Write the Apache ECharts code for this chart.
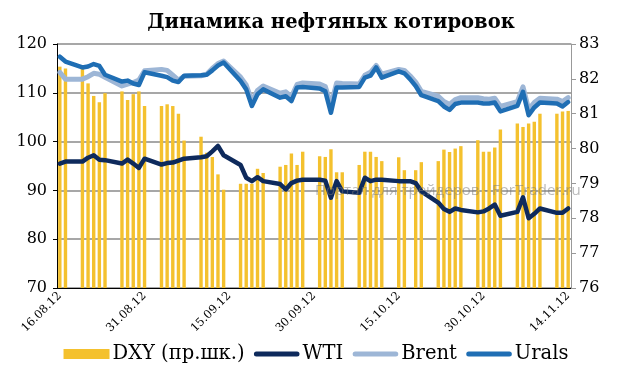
<!DOCTYPE html>
<html><head><meta charset="utf-8">
<script src="https://cdn.jsdelivr.net/npm/echarts@6/dist/echarts.min.js"></script>
<style>html,body{margin:0;padding:0;background:#fff}#c{width:632px;height:366px}</style>
</head><body><div id="c"></div>
<script>
var days = ["16.08.12","17.08.12","18.08.12","19.08.12","20.08.12","21.08.12","22.08.12","23.08.12","24.08.12","25.08.12",
"26.08.12","27.08.12","28.08.12","29.08.12","30.08.12","31.08.12","01.09.12","02.09.12","03.09.12","04.09.12",
"05.09.12","06.09.12","07.09.12","08.09.12","09.09.12","10.09.12","11.09.12","12.09.12","13.09.12","14.09.12",
"15.09.12","16.09.12","17.09.12","18.09.12","19.09.12","20.09.12","21.09.12","22.09.12","23.09.12","24.09.12",
"25.09.12","26.09.12","27.09.12","28.09.12","29.09.12","30.09.12","01.10.12","02.10.12","03.10.12","04.10.12",
"05.10.12","06.10.12","07.10.12","08.10.12","09.10.12","10.10.12","11.10.12","12.10.12","13.10.12","14.10.12",
"15.10.12","16.10.12","17.10.12","18.10.12","19.10.12","20.10.12","21.10.12","22.10.12","23.10.12","24.10.12",
"25.10.12","26.10.12","27.10.12","28.10.12","29.10.12","30.10.12","31.10.12","01.11.12","02.11.12","03.11.12",
"04.11.12","05.11.12","06.11.12","07.11.12","08.11.12","09.11.12","10.11.12","11.11.12","12.11.12","13.11.12",
"14.11.12"];
var _ = null;
var dxy = [82.35,82.3,_,_,82.3,81.87,81.51,81.33,81.59,_,
_,81.64,81.39,81.56,81.64,81.22,_,_,81.22,81.27,
81.22,81.0,80.23,_,_,80.34,79.88,79.76,79.26,78.82,
_,_,78.99,78.99,78.99,79.42,79.3,_,_,79.48,
79.53,79.86,79.53,79.91,_,_,79.78,79.76,79.98,79.32,
79.32,_,_,79.53,79.91,79.91,79.76,79.64,_,_,
79.75,79.38,_,79.38,79.61,_,_,79.64,79.97,79.9,
80.0,80.07,_,_,80.24,79.91,79.91,80.03,80.55,_,
_,80.72,80.62,80.72,80.77,81.0,_,_,81.0,81.06,
81.08];
var wti = [95.5,95.9,_,_,95.9,96.7,97.2,96.3,96.2,_,
_,95.5,96.3,95.5,94.6,96.5,_,_,95.3,95.6,
95.7,96.1,96.5,_,_,96.8,97.0,98.0,99.1,97.2,
_,_,95.2,92.6,91.9,92.7,91.9,_,_,91.3,
90.2,91.5,92.0,92.2,_,_,92.2,92.0,88.5,91.9,
89.8,_,_,89.5,92.6,91.9,92.2,92.2,_,_,
91.9,91.9,91.9,91.5,89.8,_,_,87.5,86.2,85.6,
86.3,86.0,_,_,85.5,85.7,86.3,87.1,84.8,_,
_,85.6,88.6,84.3,85.2,86.3,_,_,85.4,85.4,
86.3];
var brent = [114.2,112.8,_,_,112.8,113.3,114.0,113.8,113.2,_,
_,111.4,111.8,112.1,112.6,114.5,_,_,114.8,114.6,
113.6,112.6,113.4,_,_,113.5,113.8,115.0,116.0,116.5,
_,_,113.2,111.6,108.3,110.5,111.4,_,_,109.9,
110.2,109.2,111.7,112.0,_,_,111.8,111.3,107.5,112.0,
111.9,_,_,111.8,113.6,114.2,115.6,113.8,_,_,
114.8,114.6,113.5,112.2,110.3,_,_,109.3,108.2,107.6,
108.6,109.0,_,_,109.0,108.8,108.7,108.9,107.2,_,
_,108.2,111.2,106.6,108.0,108.9,_,_,108.7,108.2,
109.0];
var urals = [117.4,116.4,_,_,115.2,115.4,115.9,115.5,113.7,_,
_,112.3,112.5,111.9,111.6,114.2,_,_,113.5,113.2,
112.5,112.2,113.5,_,_,113.6,113.7,114.6,115.6,116.2,
_,_,112.4,110.7,107.3,109.7,110.7,_,_,109.0,
109.3,108.3,111.1,111.2,_,_,110.9,110.3,105.9,111.1,
111.1,_,_,111.2,113.1,113.5,115.2,113.1,_,_,
114.4,114.0,112.8,111.4,109.5,_,_,108.3,107.2,106.5,
107.7,108.0,_,_,108.0,107.8,107.8,108.0,106.2,_,
_,107.3,110.2,105.4,107.0,108.0,_,_,107.8,107.2,
108.1];
var leftTicks = {min:70, max:120, interval:10};
var rightTicks = {min:76, max:83, interval:1};

var serif = 'DejaVu Serif';
var lineIcon = 'path://M0,0L0.05,0L0.05,0.05ZM0,10L0.05,10L0.05,9.95ZM3,2.4L45,2.4A2.6,2.6 0 0 1 45,7.6L3,7.6A2.6,2.6 0 0 1 3,2.4Z';
var chart = echarts.init(document.getElementById('c'), null, {renderer:'canvas'});
chart.setOption({
  animation:false,
  backgroundColor:'#fff',
  title:{text:'Динамика нефтяных котировок', left:326, top:8, textAlign:'center',
    textStyle:{fontFamily:serif, fontWeight:'bold', fontSize:19.5, color:'#000'}},
  grid:{left:57, right:61, top:44, bottom:78},
  legend:{
    data:[{name:'DXY (пр.шк.)', icon:'rect'},{name:'WTI', icon:lineIcon},{name:'Brent', icon:lineIcon},{name:'Urals', icon:lineIcon}],
    left:'center', top:339, itemWidth:46, itemHeight:10, itemGap:9,
    textStyle:{fontFamily:serif, fontSize:19.5, color:'#000', padding:[0,0,0,-2]}
  },
  xAxis:{type:'category', data:days, boundaryGap:true,
    axisLine:{lineStyle:{color:'#000', width:1}},
    axisTick:{alignWithLabel:true, interval:14, length:4, lineStyle:{color:'#000'}},
    axisLabel:{interval:14, rotate:45, fontFamily:serif, fontSize:11.5, color:'#000', margin:6}
  },
  yAxis:[
    {type:'value', min:leftTicks.min, max:leftTicks.max, interval:leftTicks.interval,
     axisLine:{show:true, lineStyle:{color:'#000'}},
     axisTick:{show:true, length:4, lineStyle:{color:'#000'}},
     axisLabel:{fontFamily:serif, fontSize:16, color:'#000', margin:10},
     splitLine:{lineStyle:{color:'#8a8a8a', width:1.5}}},
    {type:'value', min:rightTicks.min, max:rightTicks.max, interval:rightTicks.interval, position:'right',
     axisLine:{show:true, lineStyle:{color:'#999'}},
     axisTick:{show:true, length:5, lineStyle:{color:'#999'}},
     axisLabel:{fontFamily:serif, fontSize:16, color:'#000', margin:8},
     splitLine:{show:false}}
  ],
  series:[
    {name:'DXY (пр.шк.)', type:'bar', yAxisIndex:1, data:dxy, barWidth:3.4,
     itemStyle:{color:'#F4C12E'}},
    {name:'Brent', type:'line', yAxisIndex:0, data:brent, connectNulls:true, symbol:'none',
     lineStyle:{color:'#9DB6D6', width:5, cap:'round', join:'round'}, itemStyle:{color:'#9DB6D6'}},
    {name:'Urals', type:'line', yAxisIndex:0, data:urals, connectNulls:true, symbol:'none',
     lineStyle:{color:'#1F6EB4', width:4.5, cap:'round', join:'round'}, itemStyle:{color:'#1F6EB4'}},
    {name:'WTI', type:'line', yAxisIndex:0, data:wti, connectNulls:true, symbol:'none',
     lineStyle:{color:'#0E2A5C', width:4.5, cap:'round', join:'round'}, itemStyle:{color:'#0E2A5C'}}
  ],
  graphic:[{type:'text', left:315, top:183, z:100,
    style:{text:'Портал для трейдеров - ForTrader.ru', font:'15px "Open Sans"', fill:'rgba(120,120,120,0.5)'}}]
});
</script></body></html>
